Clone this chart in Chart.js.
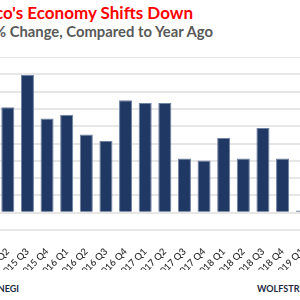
<!DOCTYPE html>
<html lang="en">
<head>
  <meta charset="UTF-8" />
  <title>Mexico's Economy Shifts Down</title>
  <script src="https://cdn.jsdelivr.net/npm/chart.js"></script>
  <style>
    html, body {
      margin: 0;
      padding: 0;
      width: 300px;
      height: 300px;
      overflow: hidden;
      background: #fff;
      font-family: Lato, "Open Sans", sans-serif;
    }
    .title, .subtitle, .source, .brand {
      position: absolute;
      white-space: nowrap;
      line-height: 1;
    }
    .title {
      top: 4px;
      right: 107px;
      font-size: 17px;
      font-weight: bold;
      color: #ff0000;
    }
    .subtitle {
      top: 24px;
      right: 87px;
      font-size: 14.8px;
      font-weight: bold;
      color: #595959;
    }
    .source {
      top: 284px;
      right: 281px;
      font-size: 9px;
      font-weight: bold;
      color: #1b2940;
    }
    .brand {
      top: 284px;
      left: 257px;
      font-size: 9px;
      font-weight: bold;
      color: #1b2940;
    }
    #wrap {
      position: absolute;
      left: -2px;
      top: 57px;
      width: 314px;
      height: 213px;
    }
  </style>
</head>
<body>
  <div class="title">Mexico's Economy Shifts Down</div>
  <div class="subtitle">% Change, Compared to Year Ago</div>
  <div id="wrap"><canvas id="gdpChart"></canvas></div>
  <div class="source">Source: INEGI</div>
  <div class="brand">WOLFSTREET.com</div>

  <script>
    // quarters shown in the picture (left and right ends are cut off)
    const quarters = [
      '2015 Q2', '2015 Q3', '2015 Q4',
      '2016 Q1', '2016 Q2', '2016 Q3', '2016 Q4',
      '2017 Q1', '2017 Q2', '2017 Q3', '2017 Q4',
      '2018 Q1', '2018 Q2', '2018 Q3', '2018 Q4',
      '2019 Q1'
    ];
    // GDP, % change year over year
    const gdpChange = [
      3.05, 3.98, 2.72,
      2.83, 2.26, 2.07, 3.25,
      3.17, 3.17, 1.57, 1.51,
      2.16, 1.57, 2.45, 1.57,
      0.06
    ];
    const yMin = -0.5;
    const yMax = 4.5;
    const yStep = 0.5;

    const ctx = document.getElementById('gdpChart').getContext('2d');
    new Chart(ctx, {
      type: 'bar',
      data: {
        labels: quarters,
        datasets: [{
          label: '% change',
          data: gdpChange,
          backgroundColor: '#203864',
          borderColor: '#6f81a3',
          borderWidth: 1,
          barPercentage: 0.665,
          categoryPercentage: 1
        }]
      },
      options: {
        responsive: true,
        maintainAspectRatio: false,
        animation: false,
        layout: { padding: 0 },
        plugins: {
          legend: { display: false },
          tooltip: { enabled: false }
        },
        scales: {
          x: {
            grid: { display: false },
            border: { display: false },
            ticks: {
              autoSkip: false,
              minRotation: 45,
              maxRotation: 45,
              padding: 8,
              color: '#353535',
              font: { family: 'Lato', size: 9.5, weight: '600' }
            },
            afterFit: s => {
              s.paddingLeft = 0;
              s.paddingRight = 0;
              s.height = 40;
            }
          },
          y: {
            min: yMin,
            max: yMax,
            grid: { color: '#e6e6e6', lineWidth: 2, drawTicks: false },
            border: { display: false },
            ticks: { display: false, stepSize: yStep },
            afterFit: s => { s.width = 0; }
          }
        }
      }
    });
  </script>
</body>
</html>
